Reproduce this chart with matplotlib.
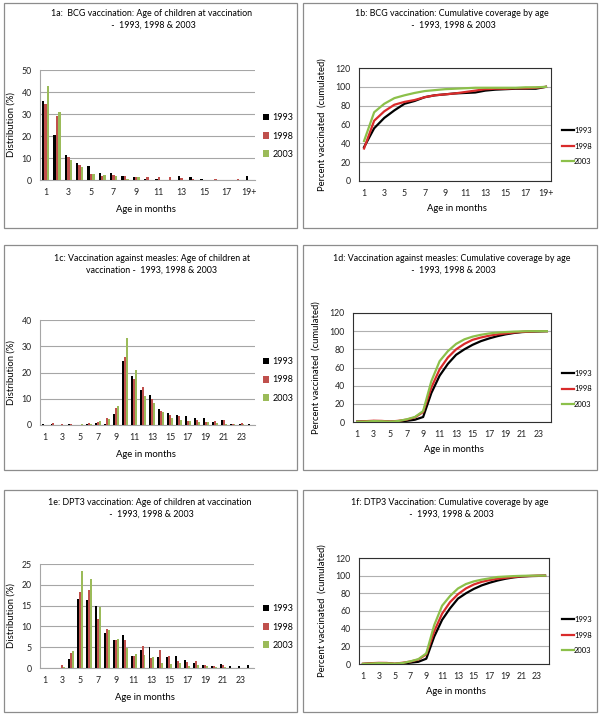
import numpy as np
import matplotlib
matplotlib.use("Agg")
import matplotlib.pyplot as plt
from matplotlib.patches import Rectangle

plt.rcParams['font.family'] = ['Lato', 'DejaVu Sans']

W, H = 600, 714
years = ['1993', '1998', '2003']
bar_cols = ['#000000', '#c0504d', '#9bbb59']
line_cols = ['#000000', '#d92b2b', '#8cc04a']

# 1a BCG distribution
bcg_labels = ['1', '', '3', '', '5', '', '7', '', '9', '', '11', '', '13', '', '15', '', '17', '', '19+']
bcg_1993 = [36, 20.3, 11.3, 7.8, 6.4, 3.4, 3.2, 1.8, 1.4, 0.5, 0.3, 0, 2.0, 1.2, 0.5, 0, 0.2, 0, 1.7]
bcg_1998 = [34.7, 29.3, 10.4, 6.6, 2.8, 1.7, 2.4, 1.7, 1.2, 1.4, 1.4, 1.5, 0.9, 0.3, 0.2, 0.3, 0.2, 0.5, 0.2]
bcg_2003 = [42.6, 30.7, 9.2, 5.8, 2.8, 2.4, 1.8, 0.6, 1.2, 0.2, 0, 0, 0, 0, 0, 0, 0, 0, 0]

# 1b BCG cumulative
bcgc_1993 = [36, 56, 67, 75, 82, 85, 89, 91, 92, 93, 93.5, 94, 96, 97, 97.5, 98, 98, 98, 100]
bcgc_1998 = [34.5, 64, 74, 81, 84, 86, 89, 91, 92, 93, 94.5, 96, 97.5, 98, 98, 98.5, 98.5, 99, 100]
bcgc_2003 = [42.5, 73, 82, 88, 91, 93.5, 95.5, 96.5, 97.5, 98, 98.5, 99, 99, 99, 99, 99, 99.5, 99.5, 100]

# 1c measles distribution
age24_labels = ['1', '', '3', '', '5', '', '7', '', '9', '', '11', '', '13', '', '15', '', '17', '', '19', '', '21', '', '23', '']
mea_1993 = [0.4, 0.3, 0, 0.4, 0, 0.3, 0.8, 0.5, 4.1, 24.4, 18.6, 13.5, 11.3, 6.0, 4.7, 3.9, 3.3, 2.7, 2.8, 1.3, 2.0, 0.5, 0.3, 0.5]
mea_1998 = [0, 0.8, 0.3, 0.3, 0, 0.7, 1.2, 2.5, 6.5, 25.8, 17.7, 14.6, 9.9, 5.4, 3.9, 3.3, 1.5, 1.8, 1.0, 1.4, 2.0, 0.5, 0.8, 0]
mea_2003 = [0, 0, 0, 0, 0.4, 0.4, 1.6, 2.3, 7.2, 33.3, 21.0, 11.1, 8.5, 5.1, 2.8, 1.9, 1.5, 1.2, 1.0, 0.7, 0.3, 0.3, 0.3, 0]

# 1d measles cumulative
meac_1993 = [0.4, 0.7, 1.0, 0.8, 0.3, 0.6, 1.3, 2.5, 5.5, 32, 51, 64, 74, 80, 85, 89, 92, 94.5, 96.5, 98, 99, 99.5, 99.7, 100]
meac_1998 = [0.3, 0.9, 1.4, 1.2, 0.5, 1.3, 2.6, 5.0, 11, 38, 58, 71, 80, 86, 90.5, 93, 95, 96.5, 97.5, 98.5, 99.3, 99.6, 100, 100]
meac_2003 = [0.2, 0.5, 1.0, 0.8, 0.4, 1.1, 2.9, 5.5, 12, 45, 67, 78, 86, 91, 94, 96, 97.5, 98.5, 99, 99.5, 99.8, 100, 100, 100]

# 1e DPT3 distribution
dpt_1993 = [0, 0, 0, 2.2, 16.5, 16.3, 14.8, 8.5, 6.8, 8.0, 2.8, 4.3, 5.1, 2.7, 2.7, 2.8, 2.0, 1.3, 0.8, 0.4, 0.9, 0.5, 0.5, 0.7]
dpt_1998 = [0, 0, 0.7, 3.6, 18.3, 18.8, 11.7, 9.4, 6.8, 6.7, 3.0, 5.4, 2.3, 4.3, 2.8, 1.6, 1.4, 1.8, 0.8, 0.4, 0.8, 0, 0, 0]
dpt_2003 = [0, 0, 0.2, 4.1, 23.2, 21.5, 14.6, 9.2, 7.0, 4.8, 3.3, 3.1, 2.7, 1.2, 0.9, 1.3, 0.6, 0.7, 0.5, 0.3, 0.3, 0, 0, 0]

# 1f DTP3 cumulative
dptc_1993 = [0, 0.5, 0.8, 0.8, 0, 0.5, 1.5, 2.5, 6, 31, 50, 63, 74, 80, 85, 89, 92, 94.5, 96.5, 98, 99, 99.5, 99.7, 100]
dptc_1998 = [0.3, 0.9, 1.3, 1.2, 0.4, 1.4, 2.8, 5.0, 11, 37, 57, 70, 79, 85.5, 90, 93, 95, 96.5, 97.5, 98.5, 99.3, 99.6, 100, 100]
dptc_2003 = [0.2, 0.5, 1.0, 0.8, 0.4, 1.1, 3.0, 5.5, 12, 44, 66, 77, 85.5, 90.5, 93.5, 95.5, 97, 98.5, 99, 99.5, 99.8, 100, 100, 100]

fig = plt.figure(figsize=(W / 100, H / 100), dpi=100)


def px_axes(x0, y0, x1, y1):
    return fig.add_axes([x0 / W, 1 - y1 / H, (x1 - x0) / W, (y1 - y0) / H])


def fig_text(x, y, s, **kw):
    fig.text(x / W, 1 - y / H, s, **kw)


def box(x0, y0, x1, y1):
    fig.patches.append(Rectangle((x0 / W, 1 - y1 / H), (x1 - x0) / W, (y1 - y0) / H,
                                 transform=fig.transFigure, fill=False,
                                 edgecolor='#8c8c8c', linewidth=0.9))


def bar_panel(rect, series, labels, ymax, ystep, title, tx, ty, xl_y, leg_y):
    ax = px_axes(*rect)
    n = len(labels)
    x = np.arange(n)
    bw = 0.215
    for i, vals in enumerate(series):
        ax.bar(x + (i - 1) * bw, vals, bw, color=bar_cols[i], zorder=3, label=years[i])
    ax.set_xlim(-0.5, n - 0.5)
    ax.set_ylim(0, ymax)
    ax.set_yticks(np.arange(0, ymax + 1, ystep))
    ax.set_xticks(x)
    ax.set_xticklabels(labels)
    ax.grid(axis='y', color='#a6a6a6', linewidth=0.8, zorder=0)
    for s in ['top', 'right']:
        ax.spines[s].set_visible(False)
    for s in ['left', 'bottom']:
        ax.spines[s].set_color('#a6a6a6')
        ax.spines[s].set_linewidth(0.8)
    ax.tick_params(length=0, labelsize=6.3, pad=6, colors='#222222')
    ax.set_ylabel('Distribution (%)', fontsize=6.8, labelpad=4)
    fig_text(tx, ty, title, ha='center', va='center', fontsize=6.4, linespacing=1.4)
    fig_text((rect[0] + rect[2]) / 2 - 2, xl_y, 'Age in months', ha='center', va='center', fontsize=6.8)
    ax.legend(loc='center left', bbox_to_anchor=(258 / W, 1 - leg_y / H), bbox_transform=fig.transFigure,
              frameon=False, fontsize=6.5, handlelength=0.7, handleheight=0.7, handletextpad=0.4,
              labelspacing=1.0, borderpad=0)
    return ax


def line_panel(rect, series, labels, title, tx, ty, xl_y, leg_x, leg_y):
    ax = px_axes(*rect)
    n = len(labels)
    x = np.arange(1, n + 1)
    for i, vals in enumerate(series):
        ax.plot(x, vals, color=line_cols[i], linewidth=1.6, zorder=3, label=years[i])
    ax.set_xlim(0.5, n + 0.5)
    ax.set_ylim(0, 120)
    ax.set_yticks(np.arange(0, 121, 20))
    ax.set_xticks(x)
    ax.set_xticklabels(labels)
    ax.grid(axis='y', color='#b0b0b0', linewidth=0.8, zorder=0)
    for s in ax.spines.values():
        s.set_color('#303030')
        s.set_linewidth(0.8)
    ax.tick_params(length=0, labelsize=6.3, pad=6, colors='#222222')
    ax.set_ylabel('Percent vaccinated  (cumulated)', fontsize=6.8, labelpad=6)
    fig_text(tx, ty, title, ha='center', va='center', fontsize=6.4, linespacing=1.4)
    fig_text((rect[0] + rect[2]) / 2 + 2, xl_y, 'Age in months', ha='center', va='center', fontsize=6.8)
    ax.legend(loc='center left', bbox_to_anchor=(leg_x / W, 1 - leg_y / H), bbox_transform=fig.transFigure,
              frameon=False, fontsize=5.5, handlelength=1.6, handletextpad=0.0,
              labelspacing=1.1, borderpad=0)
    return ax


box(4, 3, 297, 228)
box(303, 3, 597, 228)
box(4, 245, 297, 470)
box(303, 245, 597, 470)
box(4, 490, 297, 712)
box(303, 490, 597, 712)

bar_panel((40, 70, 255, 180), [bcg_1993, bcg_1998, bcg_2003], bcg_labels, 50, 10,
          '1a:  BCG vaccination: Age of children at vaccination\n -  1993, 1998 & 2003',
          152, 19, 209, 136)
line_panel((359, 68, 551, 181), [bcgc_1993, bcgc_1998, bcgc_2003], bcg_labels,
           '1b: BCG vaccination: Cumulative coverage by age\n -  1993, 1998 & 2003',
           452, 19, 208, 558, 146)
bar_panel((40, 320, 255, 425), [mea_1993, mea_1998, mea_2003], age24_labels, 40, 10,
          '1c: Vaccination against measles: Age of children at\nvaccination -  1993, 1998 & 2003',
          152, 264, 455, 380)
line_panel((353, 313, 551, 422), [meac_1993, meac_1998, meac_2003], age24_labels,
           '1d: Vaccination against measles: Cumulative coverage by age\n -  1993, 1998 & 2003',
           452, 264, 450, 558, 389)
bar_panel((40, 564, 254, 668), [dpt_1993, dpt_1998, dpt_2003], age24_labels, 25, 5,
          '1e: DPT3 vaccination: Age of children at vaccination\n -  1993, 1998 & 2003',
          150, 508, 697, 627)
line_panel((359, 558, 549, 664), [dptc_1993, dptc_1998, dptc_2003], age24_labels,
           '1f: DTP3 Vaccination: Cumulative coverage by age\n -  1993, 1998 & 2003',
           450, 508, 692, 558, 635)

fig.savefig('out.png', dpi=100, facecolor='white')
